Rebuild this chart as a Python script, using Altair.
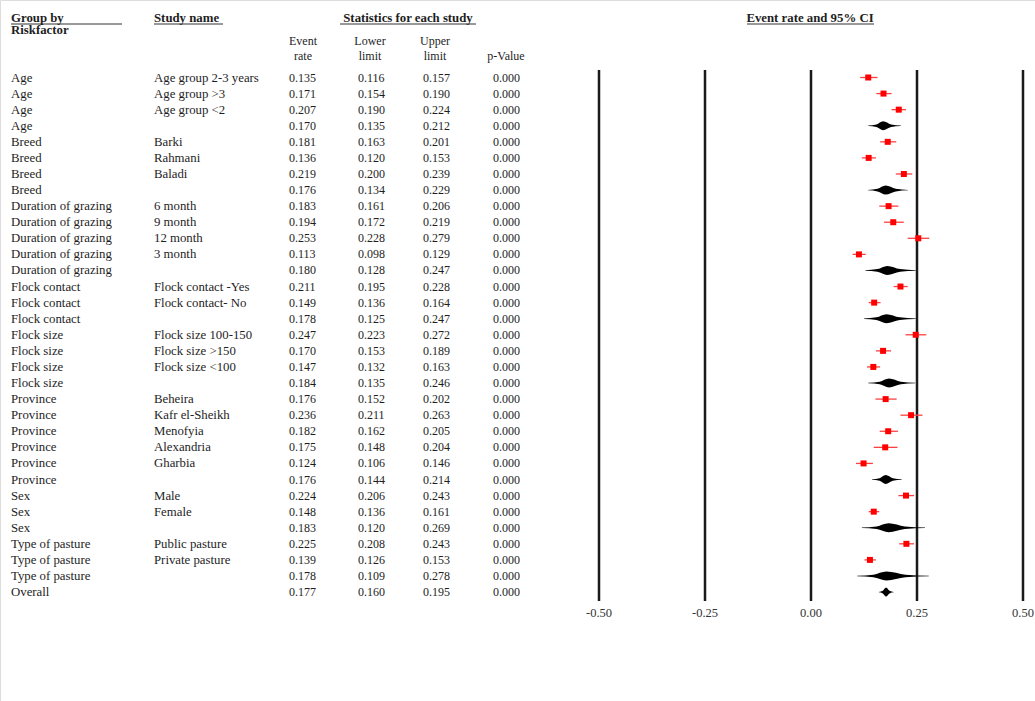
import altair as alt
import pandas as pd

groups = ["Age", "Age", "Age", "Age",
          "Breed", "Breed", "Breed", "Breed",
          "Duration of grazing", "Duration of grazing", "Duration of grazing", "Duration of grazing", "Duration of grazing",
          "Flock contact", "Flock contact", "Flock contact",
          "Flock size", "Flock size", "Flock size", "Flock size",
          "Province", "Province", "Province", "Province", "Province", "Province",
          "Sex", "Sex", "Sex",
          "Type of pasture", "Type of pasture", "Type of pasture",
          "Overall"]
studies = ["Age group 2-3 years", "Age group >3", "Age group <2", "",
           "Barki", "Rahmani", "Baladi", "",
           "6 month", "9 month", "12 month", "3 month", "",
           "Flock contact -Yes", "Flock contact- No", "",
           "Flock size 100-150", "Flock size >150", "Flock size <100", "",
           "Beheira", "Kafr el-Sheikh", "Menofyia", "Alexandria", "Gharbia", "",
           "Male", "Female", "",
           "Public pasture", "Private pasture", "",
           ""]
event = [0.135, 0.171, 0.207, 0.170,
         0.181, 0.136, 0.219, 0.176,
         0.183, 0.194, 0.253, 0.113, 0.180,
         0.211, 0.149, 0.178,
         0.247, 0.170, 0.147, 0.184,
         0.176, 0.236, 0.182, 0.175, 0.124, 0.176,
         0.224, 0.148, 0.183,
         0.225, 0.139, 0.178,
         0.177]
lower = [0.116, 0.154, 0.190, 0.135,
         0.163, 0.120, 0.200, 0.134,
         0.161, 0.172, 0.228, 0.098, 0.128,
         0.195, 0.136, 0.125,
         0.223, 0.153, 0.132, 0.135,
         0.152, 0.211, 0.162, 0.148, 0.106, 0.144,
         0.206, 0.136, 0.120,
         0.208, 0.126, 0.109,
         0.160]
upper = [0.157, 0.190, 0.224, 0.212,
         0.201, 0.153, 0.239, 0.229,
         0.206, 0.219, 0.279, 0.129, 0.247,
         0.228, 0.164, 0.247,
         0.272, 0.189, 0.163, 0.246,
         0.202, 0.263, 0.205, 0.204, 0.146, 0.214,
         0.243, 0.161, 0.269,
         0.243, 0.153, 0.278,
         0.195]
pvalues = ["0.000"] * 33

tick_values = [-0.50, -0.25, 0.00, 0.25, 0.50]
tick_labels = ["-0.50", "-0.25", "0.00", "0.25", "0.50"]

FONT = "Liberation Serif"
FS_TXT = 12.8
FS_NUM = 12
TXT_COLOR = "#1e1e1e"

rows = pd.DataFrame({
    "row": list(range(len(groups))),
    "group": groups,
    "study": studies,
    "event": event,
    "lower": lower,
    "upper": upper,
    "p": pvalues,
})
rows["summary"] = rows["study"] == ""
studies_df = rows[~rows["summary"]]
summ_df = rows[rows["summary"]]

# diamond outline (concave diamond) built from summary rows
H = 0.28
dpts = []
for _, r in summ_df.iterrows():
    lo, ev, up, rw = r["lower"], r["event"], r["upper"], r["row"]
    for frac_x, frac_h in [(0.0, 0.04), (0.55, 0.3)]:
        x = lo + frac_x * (ev - lo)
        dpts.append({"row": rw, "x": x, "ylo": rw - frac_h * H, "yhi": rw + frac_h * H})
    dpts.append({"row": rw, "x": ev, "ylo": rw - H, "yhi": rw + H})
    for frac_x, frac_h in [(0.55, 0.3), (0.0, 0.04)]:
        x = up - frac_x * (up - ev)
        dpts.append({"row": rw, "x": x, "ylo": rw - frac_h * H, "yhi": rw + frac_h * H})
diam_df = pd.DataFrame(dpts)

ticks_df = pd.DataFrame({"v": tick_values, "lab": tick_labels})

xs = alt.Scale(domain=[-811 / 424, (1035 - 811) / 424], nice=False, zero=False)
ys = alt.Scale(domain=[-77.5 / 16.08, (701 - 77.5) / 16.08], nice=False, zero=False, reverse=True)
Y = alt.Y("row:Q", scale=ys, axis=None)

def col_text(field, px, fmt=None, size=FS_TXT):
    enc = dict(x=alt.value(px), y=Y)
    if fmt:
        enc["text"] = alt.Text(f"{field}:Q", format=fmt)
    else:
        enc["text"] = alt.Text(f"{field}:N")
    return alt.Chart(rows).mark_text(font=FONT, fontSize=size, align="left", baseline="middle",
                                     color=TXT_COLOR).encode(**enc)

table = [
    col_text("group", 11),
    col_text("study", 154),
    col_text("event", 289, ".3f", FS_NUM),
    col_text("lower", 358, ".3f", FS_NUM),
    col_text("upper", 423, ".3f", FS_NUM),
    col_text("p", 493, None, FS_NUM),
]

# header texts
hdr = pd.DataFrame({
    "t": ["Group by", "Riskfactor", "Study name", "Statistics for each study",
          "Event", "rate", "Lower", "limit", "Upper", "limit", "p-Value",
          "Event rate and 95% CI"],
    "px": [11, 11, 154, 408, 303, 303, 370, 370, 435, 435, 506, 810],
    "py": [18, 30, 18, 18, 41, 56, 41, 56, 41, 56, 56, 18],
    "bold": [True, True, True, True, False, False, False, False, False, False, False, True],
    "al": ["left", "left", "left", "center", "center", "center", "center", "center", "center", "center", "center", "center"],
})
headers = []
for al in ["left", "center"]:
    for b in [True, False]:
        d = hdr[(hdr["al"] == al) & (hdr["bold"] == b)]
        if len(d) == 0:
            continue
        headers.append(
            alt.Chart(d).mark_text(font=FONT, fontSize=FS_TXT if b else FS_NUM, align=al, baseline="middle",
                                   fontWeight="bold" if b else "normal", color=TXT_COLOR)
            .encode(x=alt.X("px:Q", scale=None), y=alt.Y("py:Q", scale=None), text="t:N")
        )

ul = pd.DataFrame({"x1": [11, 154, 340, 747], "x2": [122, 223, 476, 874], "y": [24, 24, 24, 24]})
underlines = alt.Chart(ul).mark_rule(color="#333333", strokeWidth=1).encode(
    x=alt.X("x1:Q", scale=None), x2="x2:Q", y=alt.Y("y:Q", scale=None))

X = alt.X("v:Q", scale=xs, axis=None)
vlines = alt.Chart(ticks_df).mark_rule(color="#1a1a1a", strokeWidth=2.5).encode(
    x=X, y=alt.value(70), y2=alt.value(601))
tlabels = alt.Chart(ticks_df).mark_text(font=FONT, fontSize=12.5, baseline="middle", align="center",
                                        color="#333333").encode(
    x=X, y=alt.value(613), text="lab:N")

ci = alt.Chart(studies_df).mark_rule(color="#ff4040", strokeWidth=1.3).encode(
    x=alt.X("lower:Q", scale=xs, axis=None), x2="upper:Q", y=Y)
pts = alt.Chart(studies_df).mark_point(shape="square", filled=True, color="#ff0000", size=36, opacity=1).encode(
    x=alt.X("event:Q", scale=xs, axis=None), y=Y)
diamonds = alt.Chart(diam_df).mark_area(orient="vertical", color="#000000", interpolate="monotone").encode(
    x=alt.X("x:Q", scale=xs, axis=None),
    y=alt.Y("ylo:Q", scale=ys, axis=None),
    y2="yhi:Q",
    detail="row:N",
)

chart = alt.layer(
    vlines, tlabels, ci, pts, diamonds, *table, *headers, underlines
).properties(
    width=1035, height=701,
    autosize=alt.AutoSizeParams(type="none"),
    padding=0,
).configure_view(stroke=None).configure(background="white")

chart.save("out.html", embed_options={"renderer": "svg", "actions": False})
